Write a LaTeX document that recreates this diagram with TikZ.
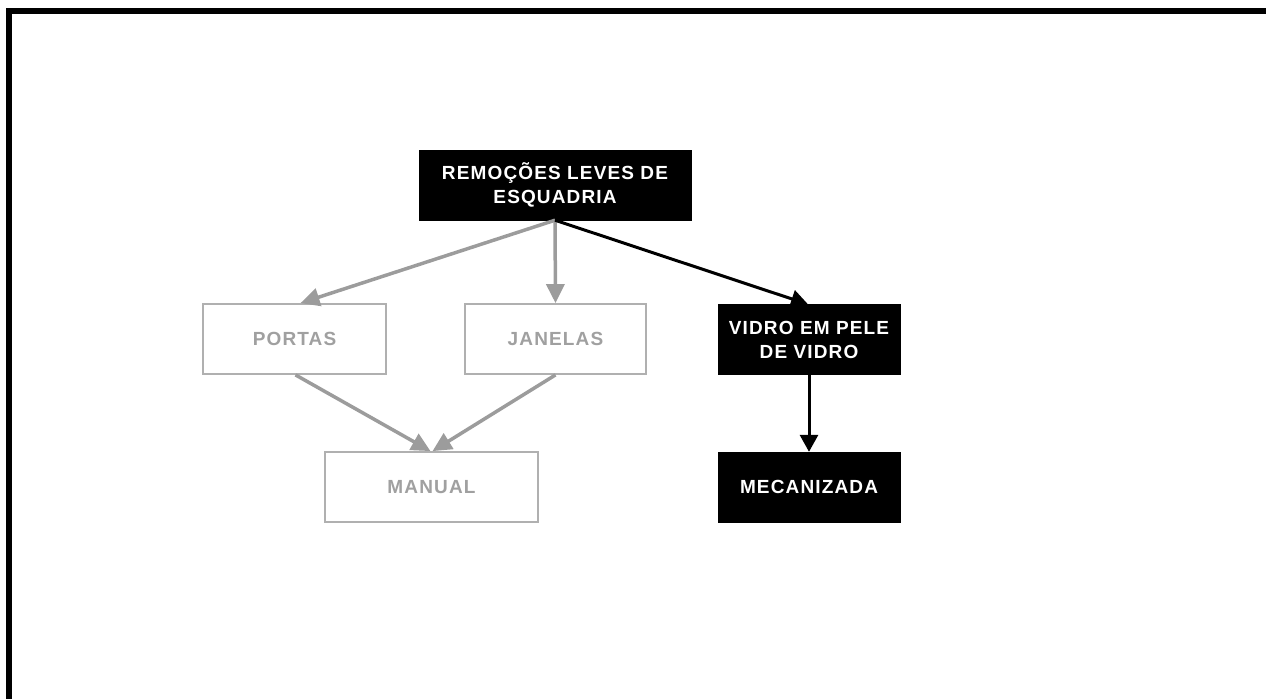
\documentclass[tikz,border=0pt]{standalone}
\usepackage{fontspec}
\setmainfont{Liberation Sans}
\usetikzlibrary{arrows.meta}
\definecolor{boxgray}{HTML}{B0B0B0}
\definecolor{txtgray}{HTML}{A0A0A0}
\definecolor{arrgray}{HTML}{9C9C9C}
\begin{document}
\begin{tikzpicture}[x=1pt,y=-1pt,
  lbl/.style={font=\fontsize{19}{24}\selectfont\bfseries\addfontfeature{LetterSpace=6}, align=center, inner sep=0pt},
  darkbox/.style={lbl, draw=black, fill=black, text=white, minimum height=70pt},
  lightbox/.style={lbl, draw=boxgray, line width=1.8pt, fill=white, text=txtgray, minimum height=70pt},
  garrow/.style={draw=arrgray, line width=3.5pt, -{Triangle[length=19pt,width=18pt]}},
  barrow/.style={draw=black, line width=3pt, -{Triangle[length=17pt,width=18pt]}}
]
\useasboundingbox (0,0) rectangle (1266,699);
% frame bars
\fill[black] (6,8) rectangle (1266,14);
\fill[black] (6,8) rectangle (12,699);

\node[darkbox, minimum width=272pt] (top) at (555,185) {REMOÇÕES LEVES DE\\ESQUADRIA};
\node[lightbox, minimum width=183pt] (portas) at (294.5,339) {PORTAS};
\node[lightbox, minimum width=181pt] (janelas) at (555.5,339) {JANELAS};
\node[darkbox, minimum width=182pt] (vidro) at (809,339.5) {VIDRO EM PELE\\DE VIDRO};
\node[lightbox, minimum width=213pt] (manual) at (431.5,487) {MANUAL};
\node[darkbox, minimum width=182pt] (mec) at (809,487) {MECANIZADA};

\draw[garrow] (top.south) -- ([xshift=6pt]portas.north);
\draw[garrow] (top.south) -- (janelas.north);
\draw[barrow] (top.south) -- ([xshift=-1pt]vidro.north);
\draw[garrow] ([xshift=1pt]portas.south) -- ([xshift=-1pt]manual.north);
\draw[garrow] (janelas.south) -- ([xshift=1pt]manual.north);
\draw[barrow] (vidro.south) -- (mec.north);
\end{tikzpicture}
\end{document}
